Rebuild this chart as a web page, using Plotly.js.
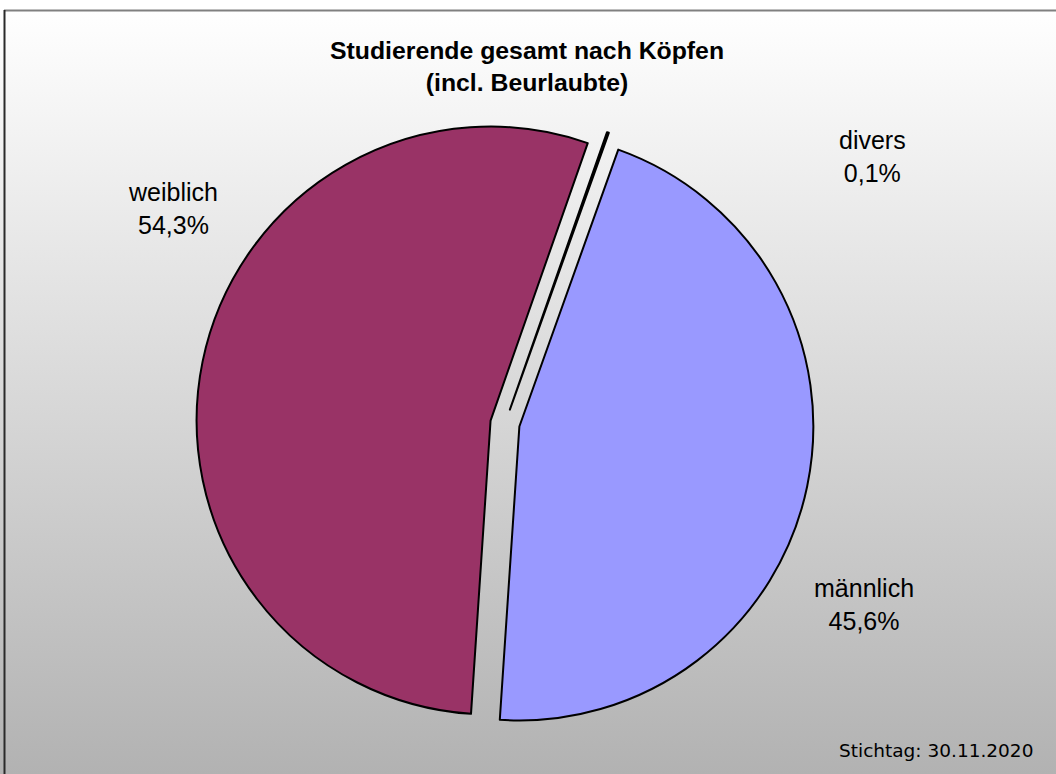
<!DOCTYPE html>
<html>
<head>
<meta charset="utf-8">
<script src="https://cdn.plot.ly/plotly-3.0.1.min.js"></script>
<style>
  html, body { margin: 0; padding: 0; background: #ffffff; }
  #chart {
    width: 1056px; height: 774px;
    background: linear-gradient(to bottom, #ffffff 0%, #ffffff 1.3%, #b2b2b2 100%);
  }
</style>
</head>
<body>
<div id="chart"></div>
<script>
// ---- data ----
const categories = ["divers", "männlich", "weiblich"];
const shares = [0.1, 45.6, 54.3];           // percent
const sliceColors = ["#000000", "#9999FF", "#993366"];
const titleLines = ["Studierende gesamt nach Köpfen", "(incl. Beurlaubte)"];
const footnote = "Stichtag: 30.11.2020";

// label positions (paper coordinates) in category order
const labelPos = {
  "divers":   {x: 0.8258, y: 0.7984},
  "männlich": {x: 0.8182, y: 0.2196},
  "weiblich": {x: 0.1638, y: 0.7300}
};

function fmtPct(v) {
  return v.toFixed(1).replace(".", ",") + "%";
}

const trace = {
  type: "pie",
  labels: categories,
  values: shares,
  sort: false,
  direction: "clockwise",
  rotation: 19.3,
  pull: [0.05, 0.05, 0.05],
  marker: { colors: sliceColors, line: { color: "#000000", width: 2 } },
  textinfo: "none",
  hoverinfo: "skip",
  showlegend: false,
  domain: { x: [0.1859, 0.7705], y: [0.0540, 0.8517] }
};

const annotations = categories.map((c, i) => ({
  xref: "paper", yref: "paper",
  x: labelPos[c].x, y: labelPos[c].y,
  xanchor: "center", yanchor: "middle",
  showarrow: false,
  text: c + "<br>" + fmtPct(shares[i]),
  font: { family: "Liberation Sans, Arial, sans-serif", size: 25, color: "#000000" }
}));

annotations.push({
  xref: "paper", yref: "paper",
  x: 0.499, y: 0.9145,
  xanchor: "center", yanchor: "middle",
  showarrow: false,
  text: "<b>" + titleLines.join("<br>") + "</b>",
  font: { family: "Liberation Sans, Arial, sans-serif", size: 24.8, color: "#000000" }
});

annotations.push({
  xref: "paper", yref: "paper",
  x: 0.8864, y: 0.031,
  xanchor: "center", yanchor: "middle",
  showarrow: false,
  text: footnote,
  font: { family: "DejaVu Sans, Verdana, sans-serif", size: 18.5, color: "#000000" }
});

const layout = {
  width: 1056, height: 774,
  margin: { l: 0, r: 0, t: 0, b: 0 },
  paper_bgcolor: "rgba(0,0,0,0)",
  plot_bgcolor: "rgba(0,0,0,0)",
  annotations: annotations,
  shapes: [
    { type: "line", xref: "paper", yref: "paper", x0: 4/1056, x1: 1.02, y0: 1 - 10.5/774, y1: 1 - 10.5/774,
      line: { color: "#808080", width: 2 } },
    { type: "line", xref: "paper", yref: "paper", x0: 4.5/1056, x1: 4.5/1056, y0: 1 - 10/774, y1: -0.02,
      line: { color: "#2a2a2a", width: 2 } }
  ]
};

Plotly.newPlot("chart", [trace], layout, { staticPlot: true, displayModeBar: false });
</script>
</body>
</html>
